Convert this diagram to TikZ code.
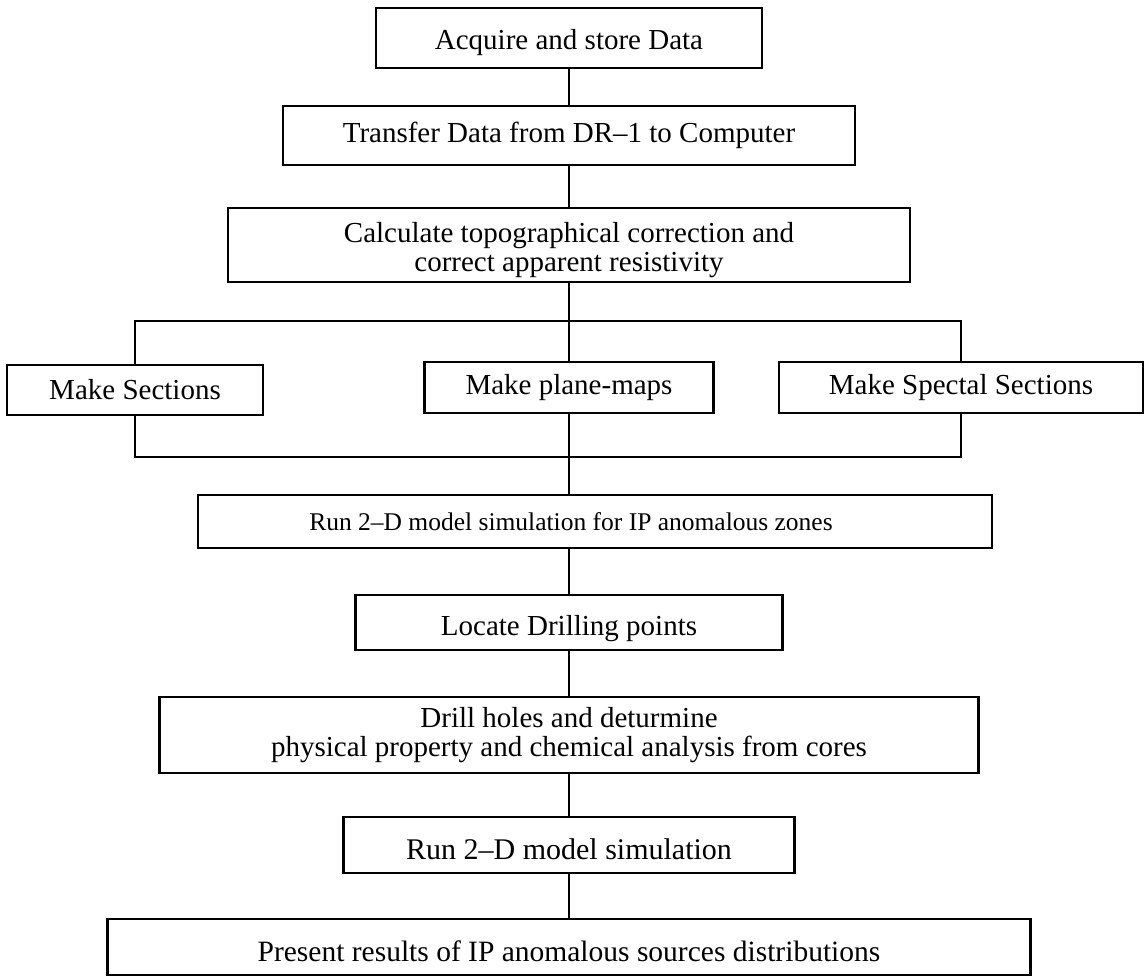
\documentclass[tikz,border=0pt]{standalone}
\usepackage{fontspec}
\setmainfont{Liberation Serif}
\newcommand{\lowtext}[2]{\raisebox{-#1}[\height][\depth]{#2}}
\begin{document}
\begin{tikzpicture}[x=1pt,y=-1pt,line width=2.4pt,
  box/.style={draw=black,fill=white,align=center,inner sep=0pt,
    font=\fontsize{29}{29}\selectfont},
  smallbox/.style={box,font=\fontsize{25.5}{25.5}\selectfont},
  conn/.style={draw=black,line width=2pt}]
\useasboundingbox (0,0) rectangle (1144,976);
\fill[white] (0,0) rectangle (1144,976);
% nodes
\node[box,minimum width=386pt,minimum height=60pt] (b1) at (569,38)
  {\lowtext{5pt}{Acquire and store Data}};
\node[box,minimum width=572pt,minimum height=59pt] (b2) at (569,135.5)
  {Transfer Data from DR--1 to Computer};
\node[box,minimum width=682pt,minimum height=74pt] (b3) at (569,245)
  {\lowtext{6pt}{\renewcommand{\arraystretch}{1}\begin{tabular}{@{}c@{}}Calculate topographical correction and\\correct apparent resistivity\end{tabular}}};
\coordinate (tbar) at (569,321);
\coordinate (bbar) at (569,457);
\node[box,minimum width=256pt,minimum height=50pt] (s1) at (135,390) {Make Sections};
\node[box,minimum width=289pt,minimum height=51pt] (s2) at (569,387.5) {Make plane-maps};
\node[box,minimum width=364pt,minimum height=51pt] (s3) at (961,387.5) {Make Spectal Sections};
\node[smallbox,minimum width=794pt,minimum height=53pt] (r1) at (595,521.5)
  {\hbox to 794pt{\hfil Run 2--D model simulation for IP anomalous zones\hskip 48pt\hfil}};
\node[box,minimum width=427pt,minimum height=55pt] (l1) at (569,622.5)
  {\lowtext{6pt}{Locate Drilling points}};
\node[box,minimum width=819pt,minimum height=76pt] (d1) at (569,735)
  {Drill holes and deturmine\\physical property and chemical analysis from cores};
\node[box,minimum width=451pt,minimum height=56pt,font=\fontsize{30}{30}\selectfont] (r2) at (569,845)
  {\lowtext{4pt}{Run 2--D model simulation}};
\node[box,minimum width=923pt,minimum height=56pt,font=\fontsize{29.5}{29.5}\selectfont] (p1) at (569,947)
  {\lowtext{4pt}{Present results of IP anomalous sources distributions}};
% connectors
\draw[conn] (b1.south) -- (b2.north);
\draw[conn] (b2.south) -- (b3.north);
\draw[conn] (b3.south) -- (s2.north);
\draw[conn] (s1.north) -- (s1.north |- tbar) -- (s3.north |- tbar) -- (s3.north);
\draw[conn] (s1.south) -- (s1.south |- bbar) -- (s3.south |- bbar) -- (s3.south);
\draw[conn] (s2.south) -- (s2.south |- r1.north);
\draw[conn] (l1.north |- r1.south) -- (l1.north);
\draw[conn] (l1.south) -- (d1.north);
\draw[conn] (d1.south) -- (r2.north);
\draw[conn] (r2.south) -- (p1.north);
\end{tikzpicture}
\end{document}
